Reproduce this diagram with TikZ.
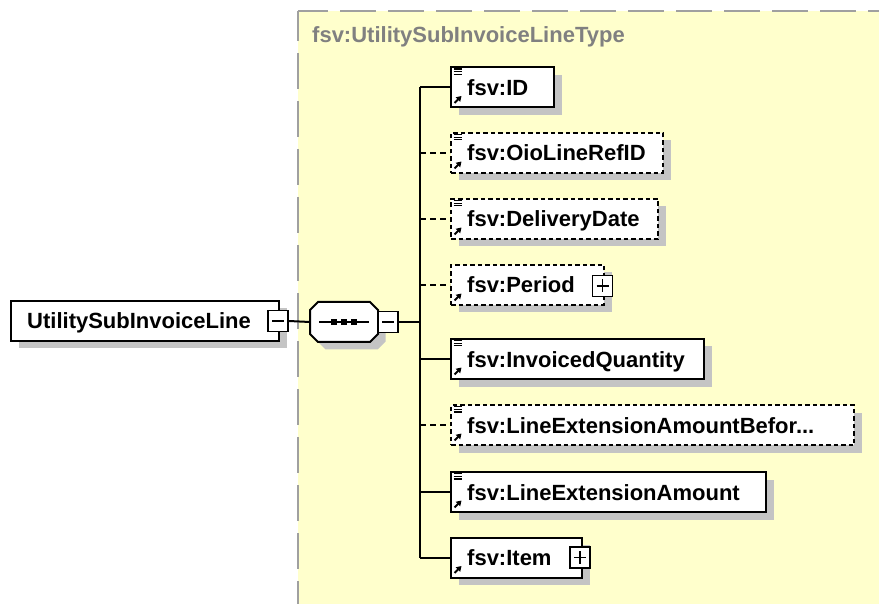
\documentclass[tikz,border=0pt]{standalone}
\usepackage{fontspec}
\setmainfont{Liberation Sans}
\usetikzlibrary{shadows,calc,arrows.meta}
\definecolor{bgyellow}{RGB}{255,255,204}
\definecolor{bordergray}{RGB}{160,160,160}
\definecolor{titlegray}{RGB}{128,128,128}
\definecolor{shadowgray}{RGB}{196,196,196}
\begin{document}
\begin{tikzpicture}[x={(1pt,0pt)},y={(0pt,-1pt)},
  elem/.style={draw, line width=2pt, fill=white, minimum height=40pt, inner sep=0pt, anchor=west,
    general shadow={fill=shadowgray, shadow xshift=7.5pt, shadow yshift=-7.5pt}},
  optelem/.style={elem, dash pattern=on 4.5pt off 3pt},
  lbl/.style={anchor=base west, inner sep=0pt, font=\bfseries\fontsize{22}{24}\selectfont},
  pm/.style={draw, line width=1.6pt, fill=white, minimum width=20pt, minimum height=21pt, inner sep=0pt},
  minusbox/.style={pm, path picture={\draw[line width=1.5pt] ([xshift=4pt]path picture bounding box.west) -- ([xshift=-4pt]path picture bounding box.east);}},
  plusbox/.style={pm, path picture={\draw[line width=1.5pt] ([xshift=4pt]path picture bounding box.west) -- ([xshift=-4pt]path picture bounding box.east) ([yshift=-4pt]path picture bounding box.north) -- ([yshift=4pt]path picture bounding box.south);}},
  link/.style={line width=2pt},
  optlink/.style={link, dash pattern=on 6pt off 4pt},
  pics/doclines/.style={code={\draw[line width=1.2pt] (0,0)--(8,0) (0,2.7)--(8,2.7) (0,5.4)--(8,5.4);}},
  pics/refarrow/.style={code={\draw[line width=2pt, -{Triangle[length=5pt,width=6pt]}] (0,0) -- (7,-7);}}
]
\useasboundingbox (0,0) rectangle (879,604);
% background of complex type
\fill[bgyellow] (298,11) rectangle (879,604);
\draw[bordergray, line width=2.5pt, dash pattern=on 36pt off 12pt, dash phase=6pt] (298,11) -- (879,11);
\draw[bordergray, line width=2.5pt, dash pattern=on 36pt off 12pt, dash phase=6pt] (298,11) -- (298,604);
\node[lbl, text=titlegray] (title) at (312,43) {fsv:UtilitySubInvoiceLineType};

% root element
\node[elem, minimum width=268pt] (root) at (10,321) {};
\node[lbl] (rootl) at ($(root.west)+(17,8)$) {UtilitySubInvoiceLine};
\node[minusbox] (rootm) at (278,321) {};

% sequence compositor
\begin{scope}[shift={(7.5,7.5)}]
\fill[shadowgray] (318,302) -- (370,302) -- (378,310) -- (378,334) -- (370,342) -- (318,342) -- (310,334) -- (310,310) -- cycle;
\end{scope}
\draw[line width=2pt, fill=white] (318,302) -- (370,302) -- (378,310) -- (378,334) -- (370,342) -- (318,342) -- (310,334) -- (310,310) -- cycle;
\node[minimum width=68pt, minimum height=40pt, inner sep=0pt] (seq) at (344,322) {};
\draw[line width=2pt] (319,322) -- (369,322);
\foreach \dx in {334,344,354} \fill (\dx-3,319) rectangle (\dx+3,325);
\node[minusbox] (seqm) at (388,322) {};

% children
\node[elem, minimum width=103pt] (id) at (450,87.5) {};
\node[lbl] at ($(id.west)+(17,8)$) {fsv:ID};
\node[optelem, minimum width=212pt] (oio) at (450,153) {};
\node[lbl] at ($(oio.west)+(17,8)$) {fsv:OioLineRefID};
\node[optelem, minimum width=207pt] (del) at (450,219) {};
\node[lbl] at ($(del.west)+(17,8)$) {fsv:DeliveryDate};
\node[optelem, minimum width=153pt] (per) at (450,285) {};
\node[lbl] at ($(per.west)+(17,8)$) {fsv:Period};
\node[plusbox] (perp) at (602.5,286) {};
\node[elem, minimum width=253pt] (inv) at (450,359) {};
\node[lbl] at ($(inv.west)+(17,8)$) {fsv:InvoicedQuantity};
\node[optelem, minimum width=403pt] (leab) at (450,425) {};
\node[lbl] at ($(leab.west)+(17,8)$) {fsv:LineExtensionAmountBefor...};
\node[elem, minimum width=315pt] (lea) at (450,492) {};
\node[lbl] at ($(lea.west)+(17,8)$) {fsv:LineExtensionAmount};
\node[elem, minimum width=131pt] (item) at (450,557.5) {};
\node[lbl] at ($(item.west)+(17,8)$) {fsv:Item};
\node[plusbox] (itemp) at (580,557.5) {};

% icons
\foreach \n in {id,oio,del,inv,leab,lea} \pic at ($(\n.north west)+(3.5,2.5)$) {doclines};
\foreach \n in {id,oio,del,per,inv,leab,lea,item} \pic at ($(\n.south west)+(4.5,-5.5)$) {refarrow};

% connectors
\coordinate (bus) at (420,322);
\draw[link] (rootm.east) -- (seq.west);
\draw[link] (seqm.east) -- (bus);
\draw[link] (bus |- id.west) -- (bus |- item.west);
\foreach \n in {id,inv,lea,item} \draw[link] (bus |- \n.west) -- (\n.west);
\foreach \n in {oio,del,per,leab} \draw[optlink] (bus |- \n.west) -- (\n.west);
\end{tikzpicture}
\end{document}
